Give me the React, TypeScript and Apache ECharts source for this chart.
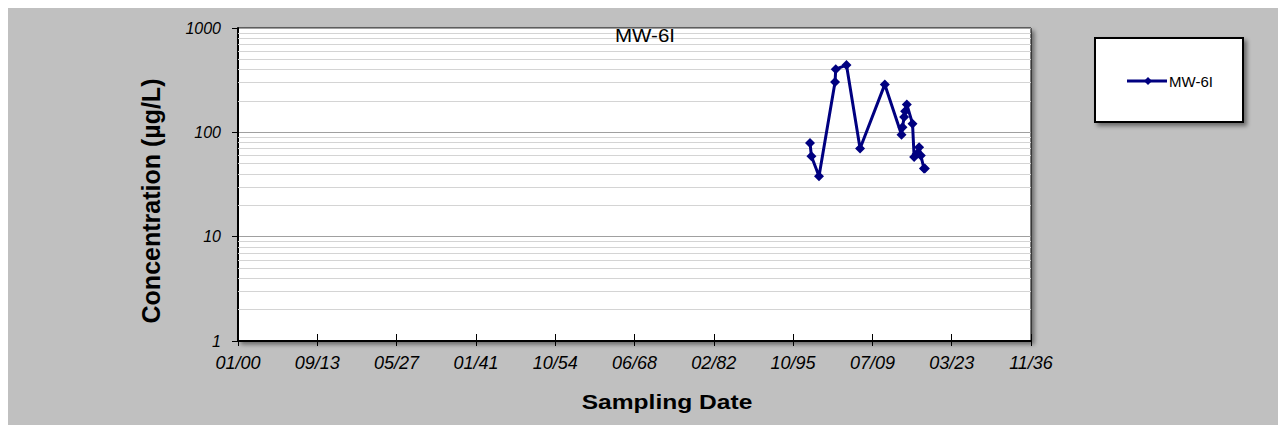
import React, { useEffect, useRef } from "react";
import * as echarts from "echarts";

// Excel date serials (days since 1900-01-00) of the samples
const sampleDates = [36067, 36155, 36634, 37645, 37689, 38365, 39223, 40782, 41836, 41899, 42000, 42063, 42170, 42530, 42631, 42790, 42947, 43054, 43250, 43307];
const mw6iValues = [79, 59, 38, 303, 403, 441, 70, 288, 95, 112, 140, 159, 185, 121, 58, 62, 72, 60, 45, 45];

const xTickLabels = ["01/00", "09/13", "05/27", "01/41", "10/54", "06/68", "02/82", "10/95", "07/09", "03/23", "11/36"];
const xMin = 0;
const xMax = 50000;
const xStep = 5000;
const yTickValues = [1, 10, 100, 1000];
const minorGridValues = [2, 3, 4, 5, 6, 7, 8, 9, 20, 30, 40, 50, 60, 70, 80, 90, 200, 300, 400, 500, 600, 700, 800, 900];

const seriesName = "MW-6I";
const chartTitle = "MW-6I";
const xTitle = "Sampling Date";
const yTitle = "Concentration (µg/L)";

const NAVY = "#000080";
const tickFont = "'Liberation Sans Narrow', 'Arial Narrow', 'Liberation Sans', Arial, sans-serif";
const mainFont = "'Liberation Sans', Arial, sans-serif";

export default function App() {
  const ref = useRef<HTMLDivElement>(null);
  useEffect(() => {
    if (!ref.current) return;
    const chart = echarts.init(ref.current, null, { renderer: "svg" });
    const data = sampleDates.map((d, i) => [d, mw6iValues[i]]);
    const xLabelFormatter = (v: number) => xTickLabels[Math.round((v - xMin) / xStep)] ?? "";
    chart.setOption({
      animation: false,
      backgroundColor: "#c0c0c0",
      grid: {
        left: 230,
        top: 20,
        right: 247,
        bottom: 84,
        show: true,
        backgroundColor: "#ffffff",
        borderColor: "#000000",
        borderWidth: 1,
        shadowColor: "rgba(0,0,0,0.45)",
        shadowBlur: 4,
        shadowOffsetX: 3,
        shadowOffsetY: 3,
      },
      xAxis: [
        {
          type: "value",
          min: xMin,
          max: xMax,
          interval: xStep,
          position: "bottom",
          axisLine: { show: true, onZero: false, lineStyle: { color: "#000", width: 2 } },
          axisTick: { show: true, inside: false, length: 5, lineStyle: { color: "#000", width: 1 } },
          splitLine: { show: false },
          axisLabel: {
            margin: 13,
            fontFamily: tickFont,
            fontStyle: "italic",
            fontSize: 18,
            color: "#000",
            formatter: xLabelFormatter,
          },
        },
        {
          type: "value",
          min: xMin,
          max: xMax,
          interval: xStep,
          position: "bottom",
          axisLine: { show: false, onZero: false },
          axisTick: { show: true, inside: true, length: 7, lineStyle: { color: "#000", width: 1 } },
          splitLine: { show: false },
          axisLabel: { show: false },
        },
      ],
      yAxis: {
        type: "log",
        logBase: 10,
        min: yTickValues[0],
        max: yTickValues[yTickValues.length - 1],
        axisLine: { show: true, lineStyle: { color: "#000", width: 2 } },
        axisTick: { show: true, inside: false, length: 6, lineStyle: { color: "#000", width: 1 } },
        splitLine: { show: true, lineStyle: { color: "#a0a0a0", width: 1 } },
        axisLabel: {
          margin: 17,
          fontFamily: tickFont,
          fontStyle: "italic",
          fontSize: 16,
          color: "#000",
          formatter: (v: number) => String(Math.round(v)),
        },
      },
      legend: { show: false },
      series: [
        {
          name: seriesName,
          type: "line",
          data,
          symbol: "diamond",
          symbolSize: 10,
          lineStyle: { color: NAVY, width: 3 },
          itemStyle: { color: NAVY },
          z: 5,
          markLine: {
            silent: true,
            symbol: "none",
            label: { show: false },
            lineStyle: { color: "#d4d4d4", width: 1, type: "solid" },
            data: minorGridValues.map((v) => ({ yAxis: v })),
            z: 1,
          },
        },
      ],
      graphic: [
        {
          type: "text",
          x: 645 - 8,
          y: 35 - 8,
          scaleX: 1.08,
          style: { text: chartTitle, font: `19px ${mainFont}`, fill: "#000", align: "center", verticalAlign: "middle" },
          z: 10,
        },
        {
          type: "text",
          x: 667 - 8,
          y: 402 - 8,
          scaleX: 1.17,
          style: { text: xTitle, font: `bold 21px ${mainFont}`, fill: "#000", align: "center", verticalAlign: "middle" },
        },
        {
          type: "text",
          x: 151 - 8,
          y: 201 - 8,
          rotation: Math.PI / 2,
          style: { text: yTitle, font: `bold 25px ${mainFont}`, fill: "#000", align: "center", verticalAlign: "middle" },
        },
        {
          type: "rect",
          shape: { x: 1095 - 8, y: 38 - 8, width: 148, height: 84 },
          style: {
            fill: "#ffffff",
            stroke: "#000",
            lineWidth: 2,
            shadowColor: "rgba(0,0,0,0.45)",
            shadowBlur: 4,
            shadowOffsetX: 3,
            shadowOffsetY: 3,
          },
        },
        {
          type: "line",
          shape: { x1: 1127 - 8, y1: 81 - 8, x2: 1167 - 8, y2: 81 - 8 },
          style: { stroke: NAVY, lineWidth: 3 },
        },
        {
          type: "polygon",
          shape: { points: [[1148 - 8, 77 - 8], [1152 - 8, 81 - 8], [1148 - 8, 85 - 8], [1144 - 8, 81 - 8]] },
          style: { fill: NAVY },
        },
        {
          type: "text",
          x: 1169 - 8,
          y: 81 - 8,
          style: { text: seriesName, font: `15px ${mainFont}`, fill: "#000", verticalAlign: "middle" },
        },
      ],
    });
    return () => chart.dispose();
  }, []);
  return <div ref={ref} style={{ width: 1270, height: 417 }} />;
}
